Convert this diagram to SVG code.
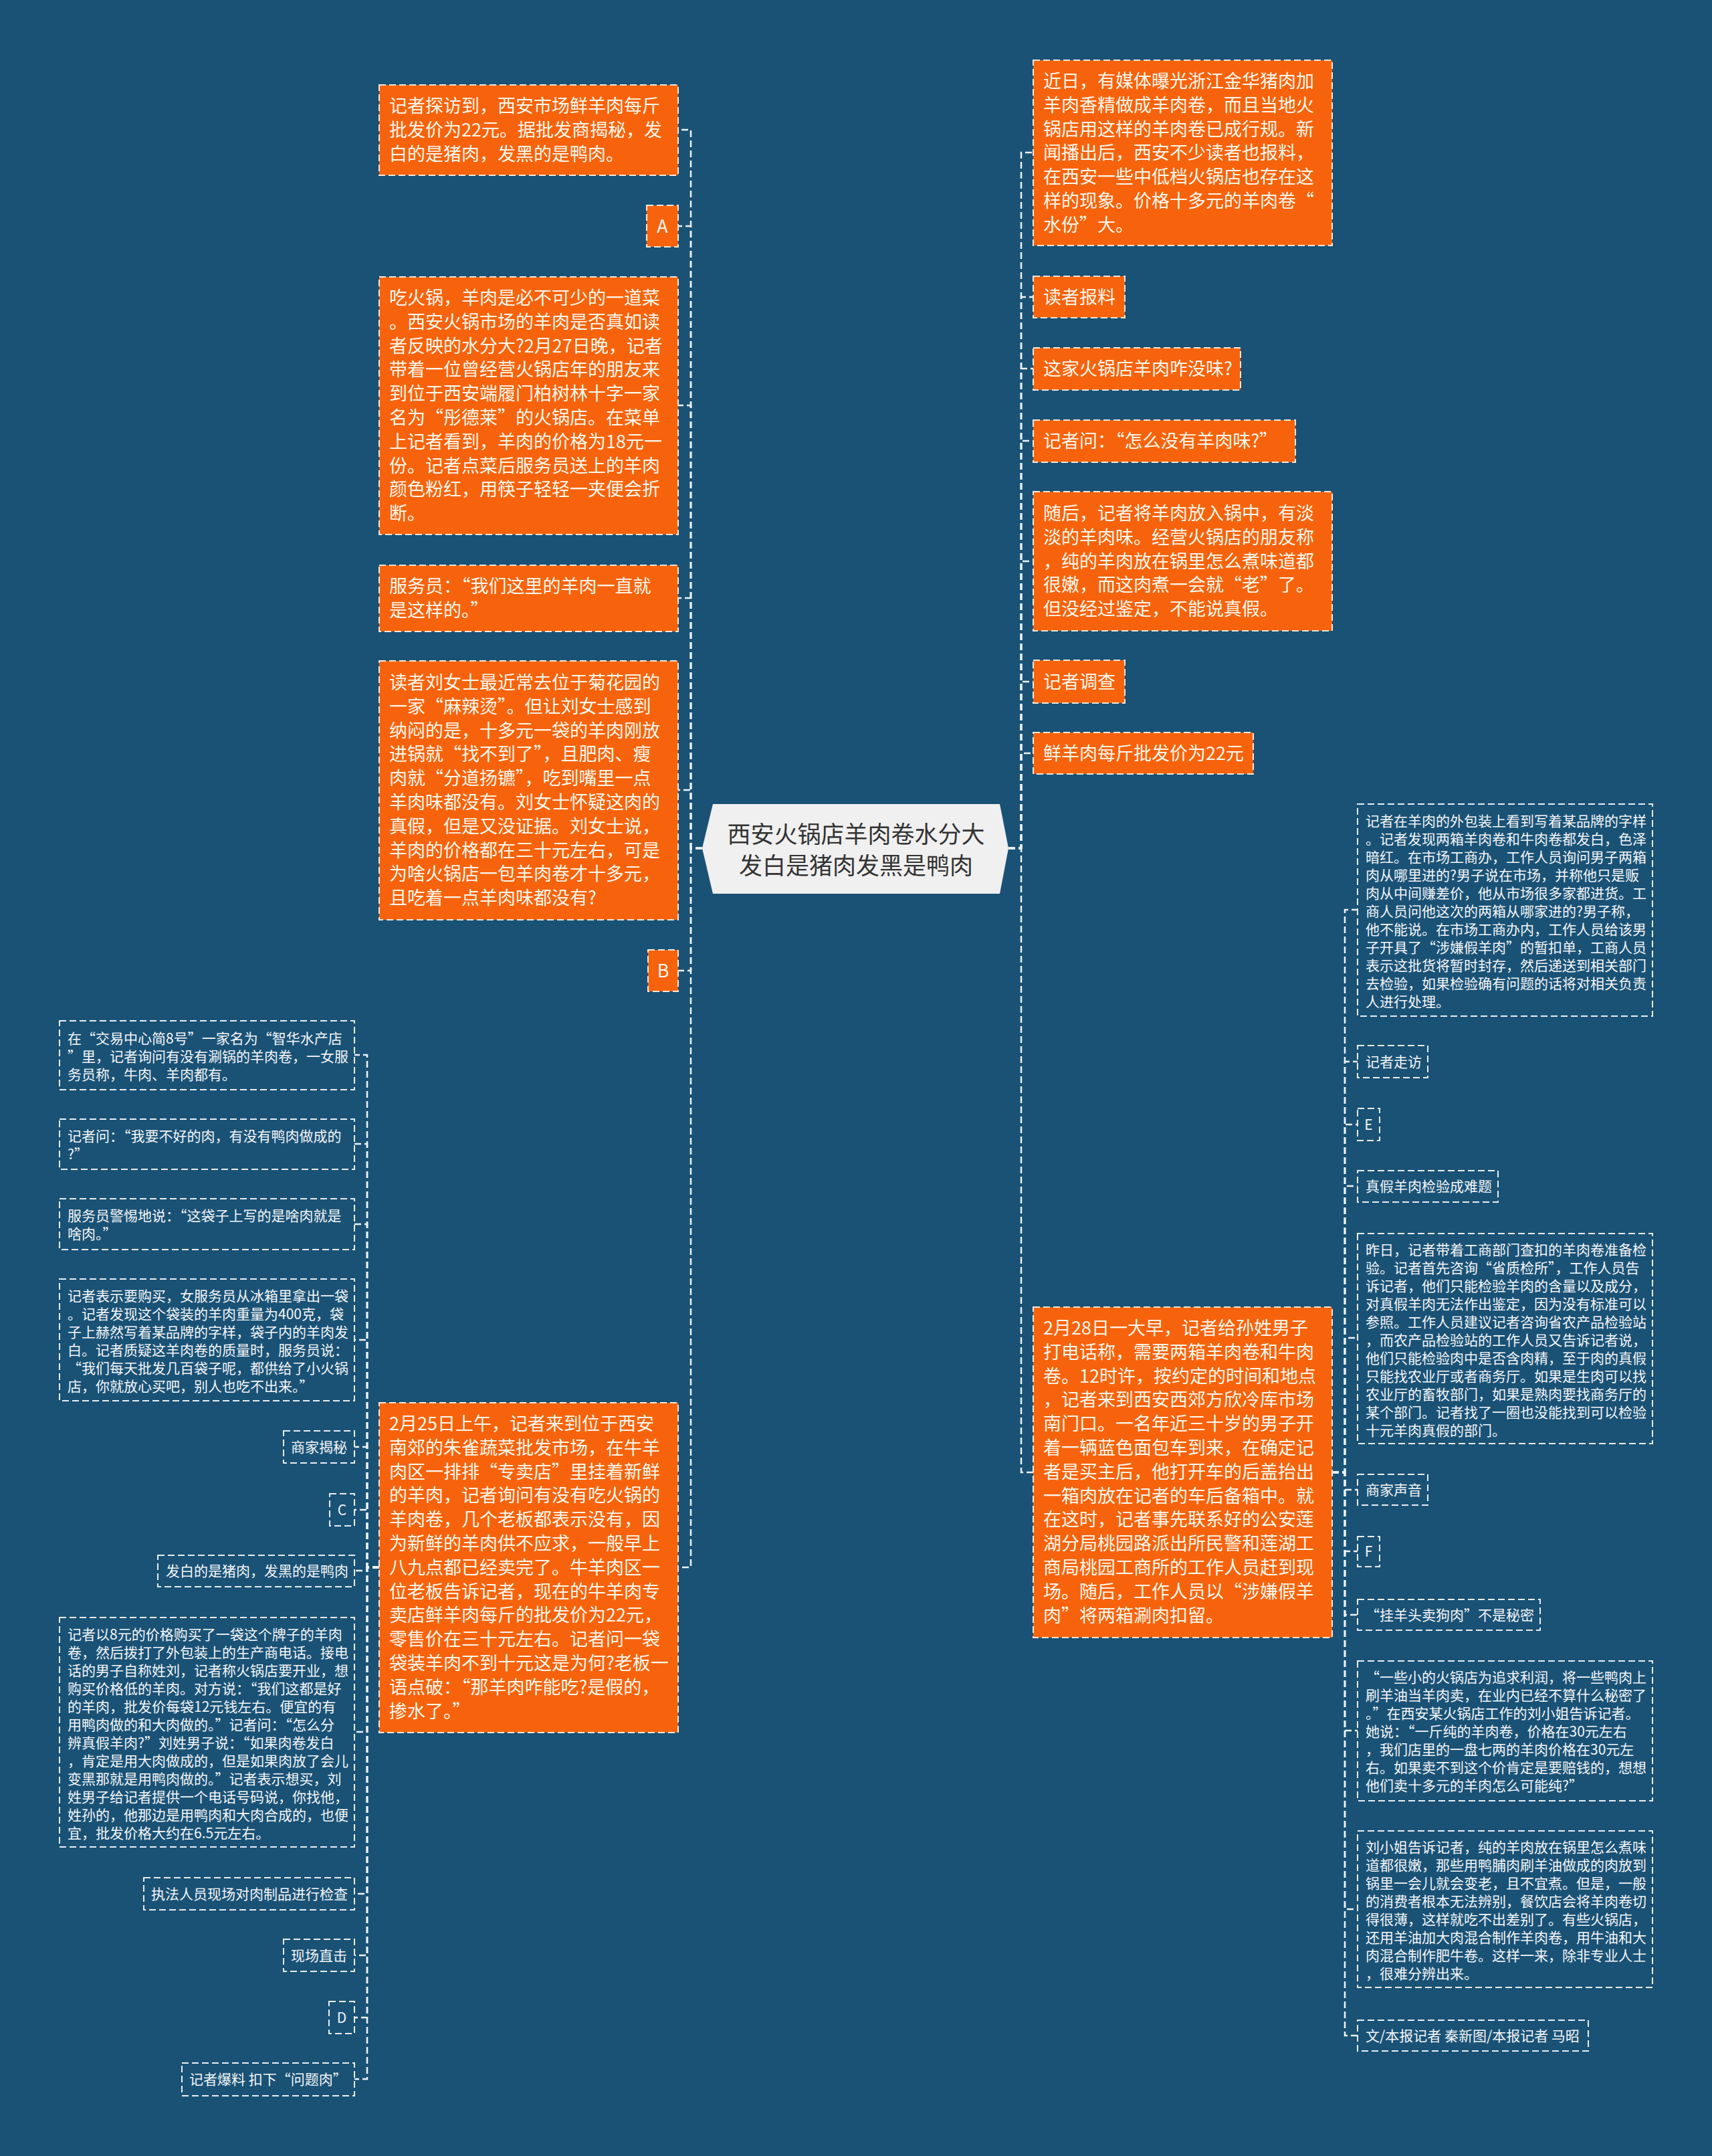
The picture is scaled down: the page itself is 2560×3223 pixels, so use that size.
<svg xmlns="http://www.w3.org/2000/svg" width="2560" height="3223" viewBox="0 0 2560 3223">
<style>
.bg{fill:#1a5276}
.o rect{fill:#f7630c;stroke:#fbe9dc;stroke-width:2;stroke-dasharray:10 5}
.b rect{fill:#1a5276;stroke:#e8eef2;stroke-width:2;stroke-dasharray:10 5}
.o text{fill:#fff8ee;font-size:27px;font-family:"Noto Sans CJK SC","Noto Sans",sans-serif}
.b text{fill:#f4f6f8;font-size:21px;font-family:"Noto Sans CJK SC","Noto Sans",sans-serif}
.c text{fill:#333333;font-size:35px;font-family:"Noto Sans CJK SC","Noto Sans",sans-serif}
#conn path{fill:none;stroke:#eef2f5;stroke-width:2.5;stroke-dasharray:10 5}
</style>
<rect class="bg" x="0" y="0" width="2560" height="3223"/>
<g id="conn">
<path d="M1050,1268 H1033 V194 H1014"/>
<path d="M1050,1268 H1033 V338 H1014"/>
<path d="M1050,1268 H1033 V606 H1014"/>
<path d="M1050,1268 H1033 V894 H1014"/>
<path d="M1050,1268 H1033 V1181 H1014"/>
<path d="M1050,1268 H1033 V1451 H1014"/>
<path d="M1050,1268 H1033 V2343 H1014"/>
<path d="M1508,1268 H1527 V228 H1545"/>
<path d="M1508,1268 H1527 V444 H1545"/>
<path d="M1508,1268 H1527 V551 H1545"/>
<path d="M1508,1268 H1527 V659 H1545"/>
<path d="M1508,1268 H1527 V839 H1545"/>
<path d="M1508,1268 H1527 V1019 H1545"/>
<path d="M1508,1268 H1527 V1126 H1545"/>
<path d="M1508,1268 H1527 V2201 H1545"/>
<path d="M567,2343 H549 V1577 H530"/>
<path d="M567,2343 H549 V1710 H530"/>
<path d="M567,2343 H549 V1830 H530"/>
<path d="M567,2343 H549 V2003 H530"/>
<path d="M567,2343 H549 V2163 H530"/>
<path d="M567,2343 H549 V2257 H530"/>
<path d="M567,2343 H549 V2348 H530"/>
<path d="M567,2343 H549 V2589 H530"/>
<path d="M567,2343 H549 V2831 H530"/>
<path d="M567,2343 H549 V2923 H530"/>
<path d="M567,2343 H549 V3016 H530"/>
<path d="M567,2343 H549 V3108 H530"/>
<path d="M1992,2201 H2011 V1360 H2030"/>
<path d="M1992,2201 H2011 V1587 H2030"/>
<path d="M1992,2201 H2011 V1681 H2030"/>
<path d="M1992,2201 H2011 V1773 H2030"/>
<path d="M1992,2201 H2011 V2000 H2030"/>
<path d="M1992,2201 H2011 V2227 H2030"/>
<path d="M1992,2201 H2011 V2319 H2030"/>
<path d="M1992,2201 H2011 V2414 H2030"/>
<path d="M1992,2201 H2011 V2587 H2030"/>
<path d="M1992,2201 H2011 V2854 H2030"/>
<path d="M1992,2201 H2011 V3043 H2030"/>
</g>
<g id="center" class="c">
<polygon points="1066,1202 1495,1202 1508,1268 1495,1336 1066,1336 1050,1268" fill="#f0f0f0"/>
<text x="1280" y="1260" text-anchor="middle">西安火锅店羊肉卷水分大</text>
<text x="1280" y="1307" text-anchor="middle">发白是猪肉发黑是鸭肉</text>
</g>
<g id="n-l1" class="o"><rect x="567" y="127" width="447" height="135"/>
<text x="582" y="168"><tspan x="582">记者探访到，西安市场鲜羊肉每斤</tspan><tspan x="582" dy="36">批发价为22元。据批发商揭秘，发</tspan><tspan x="582" dy="36">白的是猪肉，发黑的是鸭肉。</tspan></text></g>
<g id="n-a" class="o"><rect x="967" y="307" width="47" height="62"/><text x="990.5" y="348" text-anchor="middle">A</text></g>
<g id="n-l3" class="o"><rect x="567" y="414" width="447" height="385"/>
<text x="582" y="455"><tspan x="582">吃火锅，羊肉是必不可少的一道菜</tspan><tspan x="582" dy="35.8">。西安火锅市场的羊肉是否真如读</tspan><tspan x="582" dy="35.8">者反映的水分大?2月27日晚，记者</tspan><tspan x="582" dy="35.8">带着一位曾经营火锅店年的朋友来</tspan><tspan x="582" dy="35.8">到位于西安端履门柏树林十字一家</tspan><tspan x="582" dy="35.8">名为“彤德莱”的火锅店。在菜单</tspan><tspan x="582" dy="35.8">上记者看到，羊肉的价格为18元一</tspan><tspan x="582" dy="35.8">份。记者点菜后服务员送上的羊肉</tspan><tspan x="582" dy="35.8">颜色粉红，用筷子轻轻一夹便会折</tspan><tspan x="582" dy="35.8">断。</tspan></text></g>
<g id="n-l4" class="o"><rect x="567" y="845" width="447" height="99"/>
<text x="582" y="886"><tspan x="582">服务员：“我们这里的羊肉一直就</tspan><tspan x="582" dy="35.8">是这样的。”</tspan></text></g>
<g id="n-l5" class="o"><rect x="567" y="988" width="447" height="387"/>
<text x="582" y="1030"><tspan x="582">读者刘女士最近常去位于菊花园的</tspan><tspan x="582" dy="35.8">一家“麻辣烫”。但让刘女士感到</tspan><tspan x="582" dy="35.8">纳闷的是，十多元一袋的羊肉刚放</tspan><tspan x="582" dy="35.8">进锅就“找不到了”，且肥肉、瘦</tspan><tspan x="582" dy="35.8">肉就“分道扬镳”，吃到嘴里一点</tspan><tspan x="582" dy="35.8">羊肉味都没有。刘女士怀疑这肉的</tspan><tspan x="582" dy="35.8">真假，但是又没证据。刘女士说，</tspan><tspan x="582" dy="35.8">羊肉的价格都在三十元左右，可是</tspan><tspan x="582" dy="35.8">为啥火锅店一包羊肉卷才十多元，</tspan><tspan x="582" dy="35.8">且吃着一点羊肉味都没有?</tspan></text></g>
<g id="n-b" class="o"><rect x="969" y="1420" width="45" height="62"/><text x="991.5" y="1461" text-anchor="middle">B</text></g>
<g id="n-l7" class="o"><rect x="567" y="2097" width="447" height="493"/>
<text x="582" y="2138"><tspan x="582">2月25日上午，记者来到位于西安</tspan><tspan x="582" dy="35.8">南郊的朱雀蔬菜批发市场，在牛羊</tspan><tspan x="582" dy="35.8">肉区一排排“专卖店”里挂着新鲜</tspan><tspan x="582" dy="35.8">的羊肉，记者询问有没有吃火锅的</tspan><tspan x="582" dy="35.8">羊肉卷，几个老板都表示没有，因</tspan><tspan x="582" dy="35.8">为新鲜的羊肉供不应求，一般早上</tspan><tspan x="582" dy="35.8">八九点都已经卖完了。牛羊肉区一</tspan><tspan x="582" dy="35.8">位老板告诉记者，现在的牛羊肉专</tspan><tspan x="582" dy="35.8">卖店鲜羊肉每斤的批发价为22元，</tspan><tspan x="582" dy="35.8">零售价在三十元左右。记者问一袋</tspan><tspan x="582" dy="35.8">袋装羊肉不到十元这是为何?老板一</tspan><tspan x="582" dy="35.8">语点破：“那羊肉咋能吃?是假的，</tspan><tspan x="582" dy="35.8">掺水了。”</tspan></text></g>
<g id="s-l1" class="b"><rect x="89" y="1526" width="441" height="103"/>
<text x="101" y="1560"><tspan x="101">在“交易中心简8号”一家名为“智华水产店</tspan><tspan x="101" dy="27">”里，记者询问有没有涮锅的羊肉卷，一女服</tspan><tspan x="101" dy="27">务员称，牛肉、羊肉都有。</tspan></text></g>
<g id="s-l2" class="b"><rect x="89" y="1673" width="441" height="75"/>
<text x="101" y="1706"><tspan x="101">记者问：“我要不好的肉，有没有鸭肉做成的</tspan><tspan x="101" dy="27">?”</tspan></text></g>
<g id="s-l3" class="b"><rect x="89" y="1792" width="441" height="76"/>
<text x="101" y="1825"><tspan x="101">服务员警惕地说：“这袋子上写的是啥肉就是</tspan><tspan x="101" dy="27">啥肉。”</tspan></text></g>
<g id="s-l4" class="b"><rect x="89" y="1912" width="441" height="182"/>
<text x="101" y="1945"><tspan x="101">记者表示要购买，女服务员从冰箱里拿出一袋</tspan><tspan x="101" dy="27">。记者发现这个袋装的羊肉重量为400克，袋</tspan><tspan x="101" dy="27">子上赫然写着某品牌的字样，袋子内的羊肉发</tspan><tspan x="101" dy="27">白。记者质疑这羊肉卷的质量时，服务员说：</tspan><tspan x="101" dy="27">“我们每天批发几百袋子呢，都供给了小火锅</tspan><tspan x="101" dy="27">店，你就放心买吧，别人也吃不出来。”</tspan></text></g>
<g id="s-l5" class="b"><rect x="424" y="2139" width="106" height="48"/><text x="435" y="2171">商家揭秘</text></g>
<g id="s-l6" class="b"><rect x="493" y="2233" width="37" height="48"/><text x="511.5" y="2265" text-anchor="middle">C</text></g>
<g id="s-l7" class="b"><rect x="236" y="2325" width="294" height="47"/><text x="248" y="2356">发白的是猪肉，发黑的是鸭肉</text></g>
<g id="s-l8" class="b"><rect x="89" y="2418" width="441" height="343"/>
<text x="101" y="2451"><tspan x="101">记者以8元的价格购买了一袋这个牌子的羊肉</tspan><tspan x="101" dy="27">卷，然后拨打了外包装上的生产商电话。接电</tspan><tspan x="101" dy="27">话的男子自称姓刘，记者称火锅店要开业，想</tspan><tspan x="101" dy="27">购买价格低的羊肉。对方说：“我们这都是好</tspan><tspan x="101" dy="27">的羊肉，批发价每袋12元钱左右。便宜的有</tspan><tspan x="101" dy="27">用鸭肉做的和大肉做的。”记者问：“怎么分</tspan><tspan x="101" dy="27">辨真假羊肉?”刘姓男子说：“如果肉卷发白</tspan><tspan x="101" dy="27">，肯定是用大肉做成的，但是如果肉放了会儿</tspan><tspan x="101" dy="27">变黑那就是用鸭肉做的。”记者表示想买，刘</tspan><tspan x="101" dy="27">姓男子给记者提供一个电话号码说，你找他，</tspan><tspan x="101" dy="27">姓孙的，他那边是用鸭肉和大肉合成的，也便</tspan><tspan x="101" dy="27">宜，批发价格大约在6.5元左右。</tspan></text></g>
<g id="s-l9" class="b"><rect x="215" y="2807" width="315" height="48"/><text x="226" y="2839">执法人员现场对肉制品进行检查</text></g>
<g id="s-l10" class="b"><rect x="424" y="2899" width="106" height="48"/><text x="435" y="2931">现场直击</text></g>
<g id="s-l11" class="b"><rect x="492" y="2992" width="38" height="48"/><text x="511" y="3024" text-anchor="middle">D</text></g>
<g id="s-l12" class="b"><rect x="272" y="3084" width="258" height="49"/><text x="283" y="3116">记者爆料 扣下“问题肉”</text></g>
<g id="n-r1" class="o"><rect x="1545" y="90" width="447" height="277"/>
<text x="1560" y="131"><tspan x="1560">近日，有媒体曝光浙江金华猪肉加</tspan><tspan x="1560" dy="35.8">羊肉香精做成羊肉卷，而且当地火</tspan><tspan x="1560" dy="35.8">锅店用这样的羊肉卷已成行规。新</tspan><tspan x="1560" dy="35.8">闻播出后，西安不少读者也报料，</tspan><tspan x="1560" dy="35.8">在西安一些中低档火锅店也存在这</tspan><tspan x="1560" dy="35.8">样的现象。价格十多元的羊肉卷“</tspan><tspan x="1560" dy="35.8">水份”大。</tspan></text></g>
<g id="n-r2" class="o"><rect x="1545" y="413" width="137" height="62"/><text x="1560" y="454">读者报料</text></g>
<g id="n-r3" class="o"><rect x="1545" y="520" width="310" height="63"/><text x="1560" y="561">这家火锅店羊肉咋没味?</text></g>
<g id="n-r4" class="o"><rect x="1545" y="628" width="392" height="63"/><text x="1560" y="669">记者问：“怎么没有羊肉味?”</text></g>
<g id="n-r5" class="o"><rect x="1545" y="735" width="447" height="208"/>
<text x="1560" y="777"><tspan x="1560">随后，记者将羊肉放入锅中，有淡</tspan><tspan x="1560" dy="35.8">淡的羊肉味。经营火锅店的朋友称</tspan><tspan x="1560" dy="35.8">，纯的羊肉放在锅里怎么煮味道都</tspan><tspan x="1560" dy="35.8">很嫩，而这肉煮一会就“老”了。</tspan><tspan x="1560" dy="35.8">但没经过鉴定，不能说真假。</tspan></text></g>
<g id="n-r6" class="o"><rect x="1545" y="987" width="137" height="64"/><text x="1560" y="1029">记者调查</text></g>
<g id="n-r7" class="o"><rect x="1545" y="1095" width="329" height="62"/><text x="1560" y="1136">鲜羊肉每斤批发价为22元</text></g>
<g id="n-r8" class="o"><rect x="1545" y="1954" width="447" height="494"/>
<text x="1560" y="1995"><tspan x="1560">2月28日一大早，记者给孙姓男子</tspan><tspan x="1560" dy="35.8">打电话称，需要两箱羊肉卷和牛肉</tspan><tspan x="1560" dy="35.8">卷。12时许，按约定的时间和地点</tspan><tspan x="1560" dy="35.8">，记者来到西安西郊方欣冷库市场</tspan><tspan x="1560" dy="35.8">南门口。一名年近三十岁的男子开</tspan><tspan x="1560" dy="35.8">着一辆蓝色面包车到来，在确定记</tspan><tspan x="1560" dy="35.8">者是买主后，他打开车的后盖抬出</tspan><tspan x="1560" dy="35.8">一箱肉放在记者的车后备箱中。就</tspan><tspan x="1560" dy="35.8">在这时，记者事先联系好的公安莲</tspan><tspan x="1560" dy="35.8">湖分局桃园路派出所民警和莲湖工</tspan><tspan x="1560" dy="35.8">商局桃园工商所的工作人员赶到现</tspan><tspan x="1560" dy="35.8">场。随后，工作人员以“涉嫌假羊</tspan><tspan x="1560" dy="35.8">肉”将两箱涮肉扣留。</tspan></text></g>
<g id="s-r1" class="b"><rect x="2030" y="1202" width="441" height="317"/>
<text x="2042" y="1235"><tspan x="2042">记者在羊肉的外包装上看到写着某品牌的字样</tspan><tspan x="2042" dy="27">。记者发现两箱羊肉卷和牛肉卷都发白，色泽</tspan><tspan x="2042" dy="27">暗红。在市场工商办，工作人员询问男子两箱</tspan><tspan x="2042" dy="27">肉从哪里进的?男子说在市场，并称他只是贩</tspan><tspan x="2042" dy="27">肉从中间赚差价，他从市场很多家都进货。工</tspan><tspan x="2042" dy="27">商人员问他这次的两箱从哪家进的?男子称，</tspan><tspan x="2042" dy="27">他不能说。在市场工商办内，工作人员给该男</tspan><tspan x="2042" dy="27">子开具了“涉嫌假羊肉”的暂扣单，工商人员</tspan><tspan x="2042" dy="27">表示这批货将暂时封存，然后递送到相关部门</tspan><tspan x="2042" dy="27">去检验，如果检验确有问题的话将对相关负责</tspan><tspan x="2042" dy="27">人进行处理。</tspan></text></g>
<g id="s-r2" class="b"><rect x="2030" y="1563" width="105" height="48"/><text x="2042" y="1595">记者走访</text></g>
<g id="s-r3" class="b"><rect x="2030" y="1657" width="33" height="48"/><text x="2046.5" y="1689" text-anchor="middle">E</text></g>
<g id="s-r4" class="b"><rect x="2030" y="1750" width="210" height="47"/><text x="2042" y="1781">真假羊肉检验成难题</text></g>
<g id="s-r5" class="b"><rect x="2030" y="1844" width="441" height="314"/>
<text x="2042" y="1876"><tspan x="2042">昨日，记者带着工商部门查扣的羊肉卷准备检</tspan><tspan x="2042" dy="27">验。记者首先咨询“省质检所”，工作人员告</tspan><tspan x="2042" dy="27">诉记者，他们只能检验羊肉的含量以及成分，</tspan><tspan x="2042" dy="27">对真假羊肉无法作出鉴定，因为没有标准可以</tspan><tspan x="2042" dy="27">参照。工作人员建议记者咨询省农产品检验站</tspan><tspan x="2042" dy="27">，而农产品检验站的工作人员又告诉记者说，</tspan><tspan x="2042" dy="27">他们只能检验肉中是否含肉精，至于肉的真假</tspan><tspan x="2042" dy="27">只能找农业厅或者商务厅。如果是生肉可以找</tspan><tspan x="2042" dy="27">农业厅的畜牧部门，如果是熟肉要找商务厅的</tspan><tspan x="2042" dy="27">某个部门。记者找了一圈也没能找到可以检验</tspan><tspan x="2042" dy="27">十元羊肉真假的部门。</tspan></text></g>
<g id="s-r6" class="b"><rect x="2030" y="2204" width="105" height="46"/><text x="2042" y="2235">商家声音</text></g>
<g id="s-r7" class="b"><rect x="2030" y="2297" width="33" height="45"/><text x="2046.5" y="2327" text-anchor="middle">F</text></g>
<g id="s-r8" class="b"><rect x="2030" y="2391" width="273" height="46"/><text x="2042" y="2422">“挂羊头卖狗肉”不是秘密</text></g>
<g id="s-r9" class="b"><rect x="2030" y="2483" width="441" height="209"/>
<text x="2042" y="2515"><tspan x="2042">“一些小的火锅店为追求利润，将一些鸭肉上</tspan><tspan x="2042" dy="27">刷羊油当羊肉卖，在业内已经不算什么秘密了</tspan><tspan x="2042" dy="27">。”在西安某火锅店工作的刘小姐告诉记者。</tspan><tspan x="2042" dy="27">她说：“一斤纯的羊肉卷，价格在30元左右</tspan><tspan x="2042" dy="27">，我们店里的一盘七两的羊肉价格在30元左</tspan><tspan x="2042" dy="27">右。如果卖不到这个价肯定是要赔钱的，想想</tspan><tspan x="2042" dy="27">他们卖十多元的羊肉怎么可能纯?”</tspan></text></g>
<g id="s-r10" class="b"><rect x="2030" y="2737" width="441" height="234"/>
<text x="2042" y="2769"><tspan x="2042">刘小姐告诉记者，纯的羊肉放在锅里怎么煮味</tspan><tspan x="2042" dy="27">道都很嫩，那些用鸭脯肉刷羊油做成的肉放到</tspan><tspan x="2042" dy="27">锅里一会儿就会变老，且不宜煮。但是，一般</tspan><tspan x="2042" dy="27">的消费者根本无法辨别，餐饮店会将羊肉卷切</tspan><tspan x="2042" dy="27">得很薄，这样就吃不出差别了。有些火锅店，</tspan><tspan x="2042" dy="27">还用羊油加大肉混合制作羊肉卷，用牛油和大</tspan><tspan x="2042" dy="27">肉混合制作肥牛卷。这样一来，除非专业人士</tspan><tspan x="2042" dy="27">，很难分辨出来。</tspan></text></g>
<g id="s-r11" class="b"><rect x="2030" y="3020" width="345" height="46"/><text x="2042" y="3051">文/本报记者 秦新图/本报记者 马昭</text></g>
</svg>
